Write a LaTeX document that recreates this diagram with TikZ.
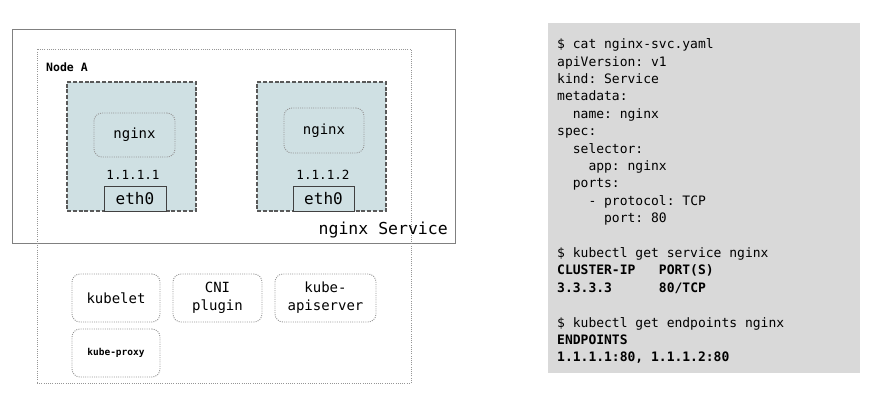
\documentclass[tikz,border=0pt]{standalone}
\usepackage{fontspec}
\setmonofont{DejaVu Sans Mono}
\definecolor{podfill}{HTML}{CFE0E3}
\definecolor{codebg}{HTML}{D9D9D9}
\definecolor{svcline}{HTML}{808080}
\definecolor{dotline}{HTML}{969696}
\definecolor{podline}{HTML}{595959}
\tikzset{
  svcbox/.style={draw=svcline, line width=0.9pt, inner sep=0pt, outer sep=0pt},
  hostbox/.style={draw=dotline, dash pattern=on 1pt off 1.2pt, line width=0.9pt, inner sep=0pt, outer sep=0pt},
  podbox/.style={draw=podline, fill=podfill, line width=1.1pt, dash pattern=on 4pt off 1.8pt, inner sep=0pt, outer sep=0pt},
  ctrbox/.style={draw=dotline, dash pattern=on 1pt off 1.2pt, line width=0.9pt, rounded corners=8pt, inner sep=0pt, outer sep=0pt, align=center, font=\ttfamily\fontsize{14}{18}\selectfont},
  ethbox/.style={draw=black!75, fill=podfill, line width=0.8pt, inner sep=0pt, outer sep=0pt, font=\ttfamily\fontsize{16}{18}\selectfont},
  iplabel/.style={font=\ttfamily\fontsize{12.6}{14}\selectfont, inner sep=0pt},
  codebox/.style={fill=codebg, inner sep=0pt, outer sep=0pt},
  codetext/.style={font=\ttfamily\fontsize{13}{17.4}\selectfont, align=left, inner sep=0pt, anchor=north west}
}
\begin{document}
\begin{tikzpicture}[x=1pt,y=-1pt]
\useasboundingbox (0,0) rectangle (870,402);
% service box
\node[svcbox, minimum width=443pt, minimum height=214pt] (svc) at (233.5,136) {};
% host node
\node[hostbox, minimum width=374pt, minimum height=334pt] (host) at (224,216) {};
\node[font=\ttfamily\bfseries\fontsize{11.5}{13}\selectfont, anchor=west, inner sep=0pt] (hostlabel) at (46,67) {Node A};
% pods
\node[podbox, minimum width=129pt, minimum height=129pt] (pod1) at (131.5,146.5) {};
\node[podbox, minimum width=129pt, minimum height=129pt] (pod2) at (321.5,146.5) {};
\node[ctrbox, minimum width=81pt, minimum height=44pt] (c1) at (134.5,135) {nginx};
\node[ctrbox, minimum width=80pt, minimum height=45pt] (c2) at (324,130.5) {nginx};
\node[iplabel] (ip1) at (133,175) {1.1.1.1};
\node[iplabel] (ip2) at (323,175) {1.1.1.2};
\node[ethbox, minimum width=62pt, minimum height=25pt] (eth1) at (135,198.5) {eth0};
\node[ethbox, minimum width=61pt, minimum height=25pt] (eth2) at (323.5,198.5) {eth0};
\node[font=\ttfamily\fontsize{16.5}{18}\selectfont, anchor=east, inner sep=0pt] (svclabel) at (448,230) {nginx Service};
% host components
\node[ctrbox, minimum width=88pt, minimum height=48pt] (kubelet) at (116,298) {kubelet};
\node[ctrbox, minimum width=89pt, minimum height=48pt] (cni) at (217.5,298) {CNI\\plugin};
\node[ctrbox, minimum width=101pt, minimum height=48pt] (api) at (325.5,298) {kube-\\apiserver};
\node[ctrbox, minimum width=88pt, minimum height=48pt, font=\ttfamily\bfseries\fontsize{9.5}{11}\selectfont] (proxy) at (116,353) {kube-proxy};
% code panel
\node[codebox, minimum width=312pt, minimum height=350pt] (code) at (704,198) {};
\node[codetext] (codetxt) at (557,38.5) {%
\$ cat nginx-svc.yaml\\
apiVersion: v1\\
kind: Service\\
metadata:\\
\phantom{xx}name: nginx\\
spec:\\
\phantom{xx}selector:\\
\phantom{xxxx}app: nginx\\
\phantom{xx}ports:\\
\phantom{xxxx}- protocol: TCP\\
\phantom{xxxxxx}port: 80\\
\mbox{}\\
\$ kubectl get service nginx\\
\textbf{CLUSTER-IP\phantom{xxx}PORT(S)}\\
\textbf{3.3.3.3\phantom{xxxxxx}80/TCP}\\
\mbox{}\\
\$ kubectl get endpoints nginx\\
\textbf{ENDPOINTS}\\
\textbf{1.1.1.1:80, 1.1.1.2:80}};
\end{tikzpicture}
\end{document}
